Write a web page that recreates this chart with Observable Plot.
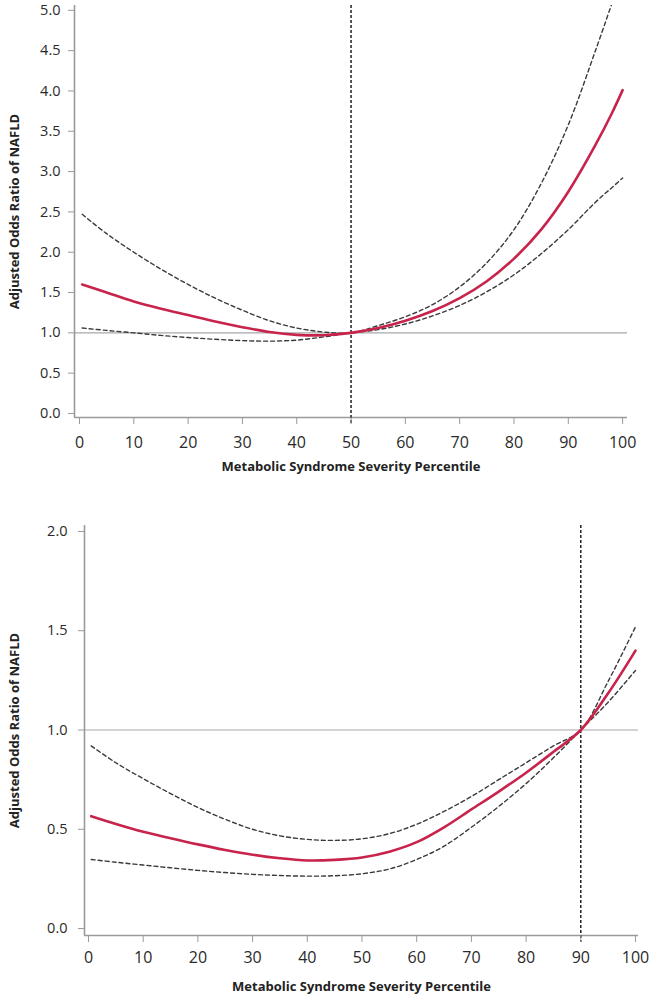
<!DOCTYPE html>
<html><head><meta charset="utf-8">
<script src="https://cdn.jsdelivr.net/npm/d3@7"></script>
<script src="https://cdn.jsdelivr.net/npm/@observablehq/plot@0.6"></script>
<style>
body{margin:0;background:#fff;}
#chart svg{display:block;}
</style></head><body><div id="chart"></div>
<script>
// ---- Data ----
// Panel A: reference at the 50th percentile
const topPercentile = [0.5, 5, 10, 15, 20, 25, 30, 35, 40, 45, 50, 55, 60, 65, 70, 75, 80, 85, 90, 95, 98, 100];
const topEstimate   = [1.60, 1.50, 1.39, 1.30, 1.22, 1.14, 1.07, 1.01, 0.975, 0.97, 1.00, 1.06, 1.15, 1.27, 1.43, 1.64, 1.92, 2.28, 2.75, 3.33, 3.72, 4.01];
const topUpper      = [2.47, 2.23, 2.00, 1.79, 1.60, 1.43, 1.28, 1.15, 1.06, 1.01, 1.00, 1.09, 1.20, 1.35, 1.57, 1.87, 2.28, 2.85, 3.58, 4.50, 5.08, null];
const topLower      = [1.06, 1.03, 1.00, 0.968, 0.942, 0.92, 0.903, 0.897, 0.91, 0.95, 1.00, 1.04, 1.11, 1.21, 1.34, 1.51, 1.72, 1.98, 2.28, 2.62, 2.80, 2.92];
const topReference  = 50;
const topYTicks     = [0, 0.5, 1, 1.5, 2, 2.5, 3, 3.5, 4, 4.5, 5];

// Panel B: reference at the 90th percentile
const bottomPercentile = [0.5, 5, 10, 15, 20, 25, 30, 35, 40, 45, 50, 55, 60, 65, 70, 75, 80, 85, 90, 95, 100];
const bottomEstimate   = [0.566, 0.527, 0.488, 0.455, 0.424, 0.396, 0.372, 0.354, 0.343, 0.346, 0.358, 0.387, 0.435, 0.51, 0.60, 0.69, 0.785, 0.89, 1.00, 1.185, 1.40];
const bottomUpper      = [0.92, 0.835, 0.755, 0.68, 0.61, 0.55, 0.50, 0.467, 0.449, 0.444, 0.452, 0.478, 0.525, 0.59, 0.665, 0.75, 0.835, 0.92, 1.00, 1.245, 1.52];
const bottomLower      = [0.348, 0.334, 0.32, 0.306, 0.293, 0.282, 0.273, 0.267, 0.264, 0.266, 0.276, 0.30, 0.348, 0.415, 0.51, 0.615, 0.73, 0.86, 1.00, 1.14, 1.30];
const bottomReference  = 90;
const bottomYTicks     = [0, 0.5, 1, 1.5, 2];

const xTicks = [0, 10, 20, 30, 40, 50, 60, 70, 80, 90, 100];
const xTitle = "Metabolic Syndrome Severity Percentile";
const yTitle = "Adjusted Odds Ratio of NAFLD";
const nullRatio = 1;

// ---- Styling ----
const RED = "#c8234b";
const DASH = "#3a3a3a";
const AXIS = "#9a9a9a";
const TEXT = "#2a2a2a";
const FONT = "'Open Sans', sans-serif";

function rows(xs, est, up, lo) {
  return xs.map((x, i) => ({x, est: est[i], up: up[i], lo: lo[i]}));
}

function panel({data, xDomain, yDomain, yTicks, ref, height, marginLeft, marginRight, marginTop, marginBottom, xPad, yPad, titleDy, yTitleDx}) {
  return Plot.plot({
    width: 654,
    height,
    marginLeft, marginRight, marginTop, marginBottom,
    style: {fontFamily: FONT, fontSize: "14px", background: "white", color: TEXT},
    x: {domain: xDomain},
    y: {domain: yDomain},
    marks: [
      Plot.ruleY([nullRatio], {stroke: "#a8a8a8", strokeWidth: 1.2}),
      Plot.ruleX([xDomain[0]], {stroke: AXIS, strokeWidth: 1.6}),
      Plot.ruleY([yDomain[0]], {stroke: AXIS, strokeWidth: 1.6}),
      Plot.ruleX([ref], {stroke: "#222", strokeWidth: 1.5, strokeDasharray: "3,2", insetBottom: -7}),
      Plot.line(data, {x: "x", y: "up", stroke: DASH, strokeWidth: 1.4, strokeDasharray: "4,3", curve: "catmull-rom", clip: true}),
      Plot.line(data, {x: "x", y: "lo", stroke: DASH, strokeWidth: 1.4, strokeDasharray: "4,3", curve: "catmull-rom", clip: true}),
      Plot.line(data, {x: "x", y: "est", stroke: RED, strokeWidth: 2.6, curve: "catmull-rom", clip: true}),
      Plot.axisX({ticks: xTicks, tickSize: 7, tickPadding: xPad, stroke: AXIS, fill: TEXT, fontSize: 16, label: null}),
      Plot.axisY({ticks: yTicks, tickSize: 6, tickPadding: yPad, tickFormat: d3.format(".1f"), stroke: AXIS, fill: TEXT, fontSize: 14.5, label: null}),
      Plot.text([xTitle], {frameAnchor: "bottom", dy: titleDy, text: d => d, fontWeight: "bold", fontSize: 13, fill: "#222"}),
      Plot.text([yTitle], {frameAnchor: "left", textAnchor: "middle", dx: yTitleDx, rotate: -90, text: d => d, fontWeight: "bold", fontSize: 13, fill: "#222"})
    ]
  });
}

const chart = document.getElementById("chart");
chart.appendChild(panel({
  data: rows(topPercentile, topEstimate, topUpper, topLower),
  xDomain: [-0.92, 100.9], yDomain: [-0.05, 5.06], yTicks: topYTicks, ref: topReference,
  height: 500, marginLeft: 74, marginRight: 27, marginTop: 5, marginBottom: 83,
  xPad: 12, yPad: 8, titleDy: 53, yTitleDx: -60
}));
chart.appendChild(panel({
  data: rows(bottomPercentile, bottomEstimate, bottomUpper, bottomLower),
  xDomain: [-0.73, 100.55], yDomain: [-0.035, 2.03], yTicks: bottomYTicks, ref: bottomReference,
  height: 500, marginLeft: 84, marginRight: 16, marginTop: 25, marginBottom: 65,
  xPad: 9, yPad: 11, titleDy: 55, yTitleDx: -70
}));
</script></body></html>
